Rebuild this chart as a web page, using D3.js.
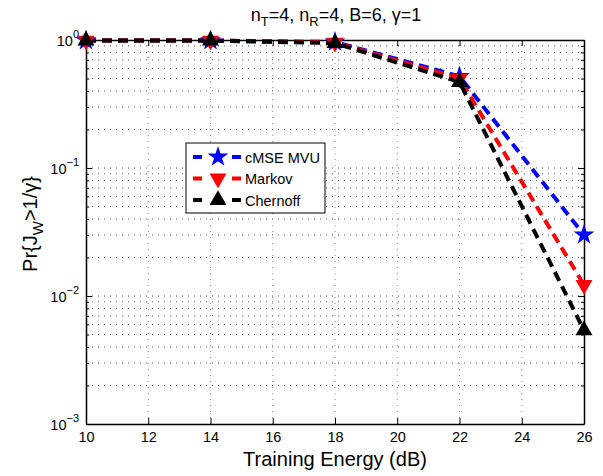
<!DOCTYPE html>
<html>
<head>
<meta charset="utf-8">
<script src="https://cdn.jsdelivr.net/npm/d3@7"></script>
<style>
  body { margin: 0; background: #fff; }
  text { font-family: "Liberation Sans", Arial, sans-serif; fill: #000; }
</style>
</head>
<body>
<div id="chart"></div>
<script>

// training energy in dB
var energy = [10, 14, 18, 22, 26];

var cmseValues = [0.99, 0.99, 0.965, 0.52, 0.030];
var markovValues = [0.99, 0.99, 0.955, 0.50, 0.0122];
var chernoffValues = [0.99, 0.99, 0.945, 0.47, 0.0054];

var seriesNames = ['cMSE MVU', 'Markov', 'Chernoff'];
var xTicks = [10, 12, 14, 16, 18, 20, 22, 24, 26];
var yExponents = [0, -1, -2, -3];

var width = 603,
    height = 476,
    margin = {top: 40, right: 19, bottom: 52, left: 86};

var series = [
  {name: seriesNames[0], values: cmseValues, color: '#0000ff', symbol: 'star'},
  {name: seriesNames[1], values: markovValues, color: '#ff0000', symbol: 'down'},
  {name: seriesNames[2], values: chernoffValues, color: '#000000', symbol: 'up'}
];

var xScale = d3.scaleLinear()
    .domain([10, 26])
    .range([margin.left, width - margin.right]);

var yScale = d3.scaleLog()
    .domain([1e-3, 1])
    .range([height - margin.bottom, margin.top]);

var svg = d3.select('#chart').append('svg')
    .attr('width', width)
    .attr('height', height);

// minor + major values for the horizontal grid
var yGrid = [];
for (var e = -3; e < 0; e++) {
  for (var m = 1; m < 10; m++) yGrid.push(m * Math.pow(10, e));
}

var grid = svg.append('g').attr('class', 'grid');

grid.selectAll('.hgrid')
    .data(yGrid.filter(function (d) { return d > 1.0001e-3; }))
    .enter().append('line')
    .attr('x1', xScale.range()[0])
    .attr('x2', xScale.range()[1])
    .attr('y1', function (d) { return yScale(d); })
    .attr('y2', function (d) { return yScale(d); })
    .style('stroke', '#555')
    .style('stroke-width', 1)
    .style('stroke-dasharray', '1,5');

grid.selectAll('.vgrid')
    .data(xTicks.slice(1, -1))
    .enter().append('line')
    .attr('x1', function (d) { return xScale(d); })
    .attr('x2', function (d) { return xScale(d); })
    .attr('y1', yScale.range()[0])
    .attr('y2', yScale.range()[1])
    .style('stroke', '#888')
    .style('stroke-width', 1)
    .style('stroke-dasharray', '1,5');

// axes with inward ticks, MATLAB style
var xAxisBottom = d3.axisBottom(xScale).tickValues(xTicks).tickSizeInner(-6).tickSizeOuter(0).tickPadding(8);
var xAxisTop = d3.axisTop(xScale).tickValues(xTicks).tickSizeInner(-6).tickSizeOuter(0).tickFormat('');
var yAxisLeft = d3.axisLeft(yScale).tickValues(yGrid.concat([1])).tickSizeOuter(0).tickFormat('');
var yAxisRight = d3.axisRight(yScale).tickValues(yGrid.concat([1])).tickSizeOuter(0).tickFormat('');

function styleAxis(g) {
  g.select('.domain').style('stroke', '#000').style('stroke-width', 1.5);
  g.selectAll('.tick line').style('stroke', '#000');
  g.selectAll('.tick text').style('font-size', '14.5px').style('font-family', '"Liberation Sans", Arial, sans-serif');
}

function isMajor(d) {
  var l = Math.log10(d);
  return Math.abs(l - Math.round(l)) < 1e-6;
}

svg.append('g')
    .attr('transform', 'translate(0,' + yScale.range()[0] + ')')
    .call(xAxisBottom)
    .call(styleAxis);

svg.append('g')
    .attr('transform', 'translate(0,' + yScale.range()[1] + ')')
    .call(xAxisTop)
    .call(styleAxis);

svg.append('g')
    .attr('transform', 'translate(' + xScale.range()[0] + ',0)')
    .call(yAxisLeft)
    .call(styleAxis)
    .selectAll('.tick line')
    .attr('x2', function (d) { return isMajor(d) ? 6 : 3; });

svg.append('g')
    .attr('transform', 'translate(' + xScale.range()[1] + ',0)')
    .call(yAxisRight)
    .call(styleAxis)
    .selectAll('.tick line')
    .attr('x2', function (d) { return isMajor(d) ? -6 : -3; });

// y tick labels as 10^n
var ylab = svg.append('g').selectAll('text')
    .data(yExponents)
    .enter().append('text')
    .attr('x', xScale.range()[0] - 7)
    .attr('y', function (d) { return yScale(Math.pow(10, d)) + 6; })
    .attr('text-anchor', 'end')
    .style('font-size', '14.5px')
    .text('10');
ylab.append('tspan')
    .attr('dy', -8)
    .style('font-size', '11px')
    .text(function (d) { return d === 0 ? '0' : '\u2212' + (-d); });

// lines and markers
var line = d3.line()
    .x(function (d, i) { return xScale(energy[i]); })
    .y(function (d) { return yScale(d); });

function marker(sel, s) {
  if (s.symbol === 'star') {
    sel.append('path')
       .attr('d', d3.symbol().type(d3.symbolStar).size(135))
       .style('fill', s.color);
  } else {
    sel.append('path')
       .attr('d', d3.symbol().type(d3.symbolTriangle).size(125))
       .attr('transform', s.symbol === 'down' ? 'rotate(180)' : null)
       .style('fill', s.color);
  }
}

series.forEach(function (s) {
  svg.append('path')
     .datum(s.values)
     .attr('d', line)
     .style('fill', 'none')
     .style('stroke', s.color)
     .style('stroke-width', 4)
     .style('stroke-dasharray', '10,6');
});

series.forEach(function (s) {
  svg.append('g').selectAll('.pt')
     .data(s.values)
     .enter().append('g')
     .attr('transform', function (d, i) { return 'translate(' + xScale(energy[i]) + ',' + yScale(d) + ')'; })
     .each(function () { marker(d3.select(this), s); });
});

// legend
var leg = svg.append('g').attr('transform', 'translate(186,143)');
leg.append('rect')
   .attr('width', 139)
   .attr('height', 70)
   .style('fill', '#fff')
   .style('stroke', '#000')
   .style('stroke-width', 1);

var item = leg.selectAll('.item')
   .data(series)
   .enter().append('g')
   .attr('transform', function (d, i) { return 'translate(0,' + (14 + i * 21.5) + ')'; });

item.append('line')
   .attr('x1', 7).attr('x2', 55)
   .style('stroke', function (d) { return d.color; })
   .style('stroke-width', 4)
   .style('stroke-dasharray', '9,30');

item.append('g')
   .attr('transform', 'translate(32,0)')
   .each(function (d) { marker(d3.select(this), d); });

item.append('text')
   .attr('x', 59)
   .attr('y', 5.5)
   .style('font-size', '14.5px')
   .text(function (d) { return d.name; });

// title
var title = svg.append('text')
   .attr('x', 336)
   .attr('y', 21)
   .attr('text-anchor', 'middle')
   .style('font-size', '18px');
title.append('tspan').text('n');
title.append('tspan').attr('dy', 5).style('font-size', '13px').text('T');
title.append('tspan').attr('dy', -5).text('=4, n');
title.append('tspan').attr('dy', 5).style('font-size', '13px').text('R');
title.append('tspan').attr('dy', -5).text('=4, B=6, \u03b3=1');

// x label
svg.append('text')
   .attr('x', xScale(18))
   .attr('y', 466)
   .attr('text-anchor', 'middle')
   .style('font-size', '20px')
   .text('Training Energy (dB)');

// y label
var ylabel = svg.append('text')
   .attr('transform', 'translate(37,224) rotate(-90)')
   .attr('text-anchor', 'middle')
   .style('font-size', '20px');
ylabel.append('tspan').text('Pr{J');
ylabel.append('tspan').attr('dy', 6).style('font-size', '15px').text('W');
ylabel.append('tspan').attr('dy', -6).text('>1/\u03b3}');

</script>
</body>
</html>
